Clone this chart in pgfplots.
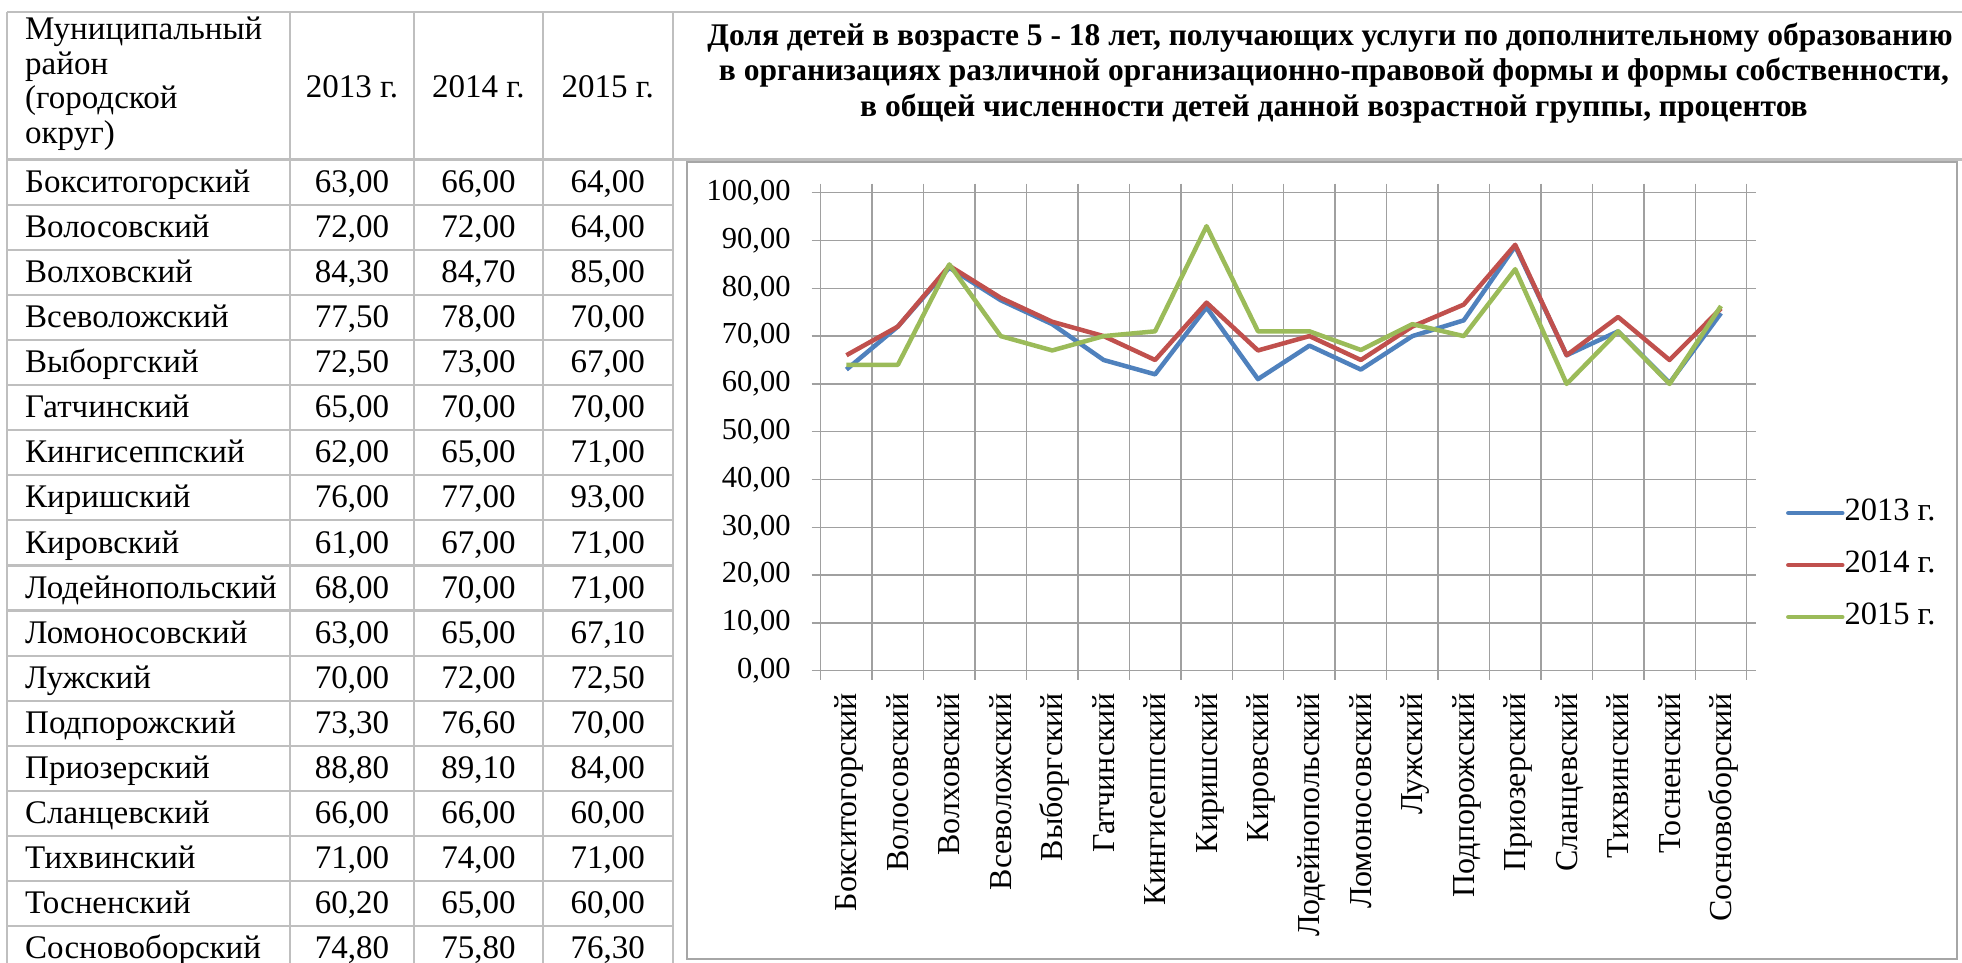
\documentclass[border=0pt]{standalone}
\usepackage{fontspec}
\setmainfont{Liberation Serif}
\usepackage{pgfplots}
\pgfplotsset{compat=1.18}
\definecolor{s13}{HTML}{4F81BD}
\definecolor{s14}{HTML}{C0504D}
\definecolor{s15}{HTML}{9BBB59}
\definecolor{tbl}{HTML}{BFBFBF}
\definecolor{grd}{HTML}{A0A0A0}
\definecolor{boxc}{HTML}{A6A6A6}
\pgfkeys{/pgf/number format/.cd,fixed,fixed zerofill,precision=2,use comma,assume math mode=true}
\newcommand\tf{\fontsize{33}{40}\selectfont}
\begin{document}
\begin{tikzpicture}[x=1pt,y=1pt]
\useasboundingbox (0,0) rectangle (1962,-963);
\begin{scope}[draw=tbl, line width=2.2pt]
\draw (7.3,-12) -- (1962,-12);
\draw (7.3,-159.5) -- (1962,-159.5);
\foreach \k in {1,...,17} \draw (7.3,{-159.5-45.1*\k}) -- (672.7,{-159.5-45.1*\k});
\foreach \xx in {7.3,290,414,542.7,672.7} \draw (\xx,-12) -- (\xx,-963);
\end{scope}
\tikzset{rt/.style={font=\tf, inner sep=0pt, text height=22pt, text depth=6.6pt}}
\node[rt,anchor=west] at (25,-32) {Муниципальный};
\node[rt,anchor=west] at (25,-66.6) {район};
\node[rt,anchor=west] at (25,-101.2) {(городской};
\node[rt,anchor=west] at (25,-135.8) {округ)};
\node[rt] at (352,-90) {2013 г.};
\node[rt] at (478.4,-90) {2014 г.};
\node[rt] at (607.7,-90) {2015 г.};
\foreach \n/\a/\b/\c [count=\i from 0] in {
Бокситогорский/63/66/64,
Волосовский/72/72/64,
Волховский/84.3/84.7/85,
Всеволожский/77.5/78/70,
Выборгский/72.5/73/67,
Гатчинский/65/70/70,
Кингисеппский/62/65/71,
Киришский/76/77/93,
Кировский/61/67/71,
Лодейнопольский/68/70/71,
Ломоносовский/63/65/67.1,
Лужский/70/72/72.5,
Подпорожский/73.3/76.6/70,
Приозерский/88.8/89.1/84,
Сланцевский/66/66/60,
Тихвинский/71/74/71,
Тосненский/60.2/65/60,
Сосновоборский/74.8/75.8/76.3}{
\node[rt,anchor=west] at (25,{-162-45.1*(\i+0.5)}) {\n};
\node[rt] at (352,{-162-45.1*(\i+0.5)}) {\pgfmathprintnumber{\a}};
\node[rt] at (478.4,{-162-45.1*(\i+0.5)}) {\pgfmathprintnumber{\b}};
\node[rt] at (607.7,{-162-45.1*(\i+0.5)}) {\pgfmathprintnumber{\c}};
}
\tikzset{tt/.style={font=\bfseries\fontsize{31.5}{38}\selectfont, inner sep=0pt, text height=21pt, text depth=6.5pt}}
\node[tt] at (1330,-38) {Доля детей в возрасте 5 - 18 лет, получающих услуги по дополнительному образованию};
\node[tt] at (1334,-73) {в организациях различной организационно-правовой формы и формы собственности,};
\node[tt] at (1334,-109) {в общей численности детей данной возрастной группы, процентов};
\draw[draw=boxc, line width=2pt] (687,-161.7) rectangle (1957,-959);
\begin{axis}[
 at={(820.7pt,-670.7pt)}, anchor=south west,
 scale only axis, width=926pt, height=478pt,
 xmin=0, xmax=18, ymin=0, ymax=100,
 xtick={0.5,1.5,...,17.5},
 xticklabels={Бокситогорский,Волосовский,Волховский,Всеволожский,Выборгский,Гатчинский,Кингисеппский,Киришский,Кировский,Лодейнопольский,Ломоносовский,Лужский,Подпорожский,Приозерский,Сланцевский,Тихвинский,Тосненский,Сосновоборский},
 minor xtick={0,1,...,18},
 ytick={0,10,...,100},
 xminorgrids=true, ymajorgrids=true,
 grid style={draw=grd, line width=1.4pt},
 minor grid style={draw=grd, line width=1.4pt},
 axis line style={draw=grd, line width=1.4pt},
 tick align=outside,
 major tick length=9pt, minor tick length=9pt,
 major x tick style={draw=none},
 tick style={draw=grd, line width=1.4pt},
 minor x tick style={draw=grd, line width=1.4pt},
 xticklabel style={rotate=90, anchor=east, font=\fontsize{32}{38}\selectfont, inner sep=0pt, text height=21pt, text depth=6pt, xshift=-13pt, yshift=-3pt},
 yticklabel style={anchor=east, font=\fontsize{30.5}{36}\selectfont, inner sep=0pt, xshift=-21pt},
 legend style={at={(axis description cs:1.0425,0.221)}, anchor=west, draw=none, fill=none, inner sep=0pt, outer sep=0pt, row sep=25pt, font=\fontsize{32.5}{38}\selectfont, nodes={inner sep=0pt, text height=21pt, text depth=6pt}, /tikz/every even column/.append style={column sep=3pt}},
 legend image code/.code={\draw[#1, line cap=round] (0pt,0pt) -- (54pt,0pt);},
 legend cell align=left,
 every axis plot/.append style={line width=4.5pt, line join=round},
]
\addplot[s13] coordinates {(0.5,63) (1.5,72) (2.5,84.3) (3.5,77.5) (4.5,72.5) (5.5,65) (6.5,62) (7.5,76) (8.5,61) (9.5,68) (10.5,63) (11.5,70) (12.5,73.3) (13.5,88.8) (14.5,66) (15.5,71) (16.5,60.2) (17.5,74.8)};
\addplot[s14] coordinates {(0.5,66) (1.5,72) (2.5,84.7) (3.5,78) (4.5,73) (5.5,70) (6.5,65) (7.5,77) (8.5,67) (9.5,70) (10.5,65) (11.5,72) (12.5,76.6) (13.5,89.1) (14.5,66) (15.5,74) (16.5,65) (17.5,75.8)};
\addplot[s15] coordinates {(0.5,64) (1.5,64) (2.5,85) (3.5,70) (4.5,67) (5.5,70) (6.5,71) (7.5,93) (8.5,71) (9.5,71) (10.5,67.1) (11.5,72.5) (12.5,70) (13.5,84) (14.5,60) (15.5,71) (16.5,60) (17.5,76.3)};
\legend{2013 г.,2014 г.,2015 г.}
\end{axis}
\end{tikzpicture}
\end{document}
